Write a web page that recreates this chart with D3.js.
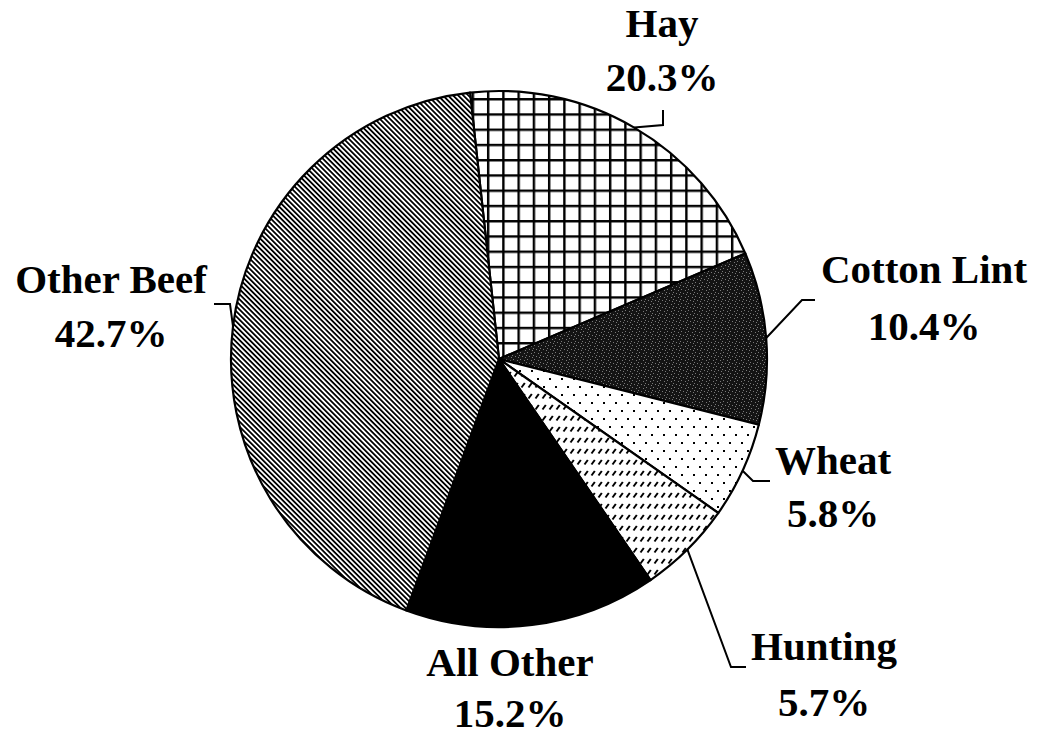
<!DOCTYPE html>
<html>
<head>
<meta charset="utf-8">
<script src="https://cdn.jsdelivr.net/npm/d3@7"></script>
<style>
  body { margin: 0; background: #fff; }
  #pie_chart { width: 1037px; height: 737px; }
  .lbl { font-family: "Liberation Serif", "Tinos", "Times New Roman", "Nimbus Roman", "DejaVu Serif", serif; font-weight: bold; font-size: 41px; fill: #000; }
</style>
</head>
<body>
<div id="pie_chart"></div>
<script>
// Data (percent of total)
var categories = ["Hay", "Cotton Lint", "Wheat", "Hunting", "All Other", "Other Beef"];
var values = [20.3, 10.4, 5.8, 5.7, 15.2, 42.7];
var valueLabels = ["20.3%", "10.4%", "5.8%", "5.7%", "15.2%", "42.7%"];

// Layout of the labels (text centre, two baselines, leader bend points)
var labelLayout = {
    "Hay":         {x: 662, y1: 37,  y2: 91,  leader: [[663, 125], [663, 110]]},
    "Cotton Lint": {x: 924, y1: 283, y2: 340, leader: [[802, 300], [815, 300]]},
    "Wheat":       {x: 833, y1: 474, y2: 527, leader: [[753, 481], [770, 481]]},
    "Hunting":     {x: 824, y1: 660, y2: 716, leader: [[731, 667], [746, 667]]},
    "All Other":   {x: 510, y1: 676, y2: 727, leader: null},
    "Other Beef":  {x: 111, y1: 293, y2: 347, leader: [[230, 304], [214, 304]]}
};

var width = 1037, height = 737;
var cx = 499, cy = 359, radius = 268;

var svg = d3.select("#pie_chart")
  .append("svg")
    .attr("width", width)
    .attr("height", height);

// Fill patterns (black & white print style)
var defs = svg.append("defs");

// Hay: square grid
var pGrid = defs.append("pattern")
    .attr("id", "p-grid")
    .attr("patternUnits", "userSpaceOnUse")
    .attr("x", 471.7 - cx).attr("y", 113.3 - cy)
    .attr("width", 15.25).attr("height", 15.25);
pGrid.append("rect").attr("width", 15.25).attr("height", 15.25).attr("fill", "#fff");
pGrid.append("rect").attr("x", 0).attr("y", 0).attr("width", 2.4).attr("height", 15.25).attr("fill", "#000");
pGrid.append("rect").attr("x", 0).attr("y", 0).attr("width", 15.25).attr("height", 2.4).attr("fill", "#000");

// Cotton Lint: dark speckled
var pDark = defs.append("pattern")
    .attr("id", "p-dark")
    .attr("patternUnits", "userSpaceOnUse")
    .attr("width", 7).attr("height", 7);
pDark.append("rect").attr("width", 7).attr("height", 7).attr("fill", "#141414");
[[0, 0], [4, 1], [2, 4], [5, 5], [6, 3]].forEach(function(p) {
    pDark.append("rect").attr("x", p[0]).attr("y", p[1]).attr("width", 1).attr("height", 1).attr("fill", "#7a7a7a");
});

// Wheat: sparse staggered dots
var pDots = defs.append("pattern")
    .attr("id", "p-dots")
    .attr("patternUnits", "userSpaceOnUse")
    .attr("width", 12).attr("height", 16);
pDots.append("rect").attr("width", 12).attr("height", 16).attr("fill", "#fff");
pDots.append("rect").attr("x", 2).attr("y", 3).attr("width", 2).attr("height", 2).attr("fill", "#000");
pDots.append("rect").attr("x", 8).attr("y", 11).attr("width", 2).attr("height", 2).attr("fill", "#000");

// Hunting: short upward diagonal dashes in rows
var pDash = defs.append("pattern")
    .attr("id", "p-dash")
    .attr("patternUnits", "userSpaceOnUse")
    .attr("width", 7).attr("height", 11);
pDash.append("rect").attr("width", 7).attr("height", 11).attr("fill", "#fff");
pDash.append("path").attr("d", "M1.5,6.5 L4.8,2").attr("stroke", "#000").attr("stroke-width", 2);

// Other Beef: dense downward diagonal lines
var pDiag = defs.append("pattern")
    .attr("id", "p-diag")
    .attr("patternUnits", "userSpaceOnUse")
    .attr("width", 8).attr("height", 3.6)
    .attr("patternTransform", "rotate(45)");
pDiag.append("rect").attr("width", 8).attr("height", 3.6).attr("fill", "#fff");
pDiag.append("rect").attr("x", 0).attr("y", 0).attr("width", 8).attr("height", 1.8).attr("fill", "#000");

var fills = d3.scaleOrdinal()
    .domain(categories)
    .range(["url(#p-grid)", "url(#p-dark)", "url(#p-dots)", "url(#p-dash)", "#000", "url(#p-diag)"]);

// Pie layout, clockwise from just left of twelve o'clock
var startAngle = -6.2 * Math.PI / 180;
var pie = d3.pie()
    .sort(null)
    .startAngle(startAngle)
    .endAngle(startAngle + 2 * Math.PI)
    .value(function(d) { return d.value; });

var data = categories.map(function(c, i) {
    return {name: c, value: values[i], label: valueLabels[i]};
});
var arcs = pie(data);

var arc = d3.arc().innerRadius(0).outerRadius(radius);
var rimArc = d3.arc().innerRadius(radius).outerRadius(radius);

var g = svg.append("g")
    .attr("transform", "translate(" + cx + "," + cy + ")");

g.selectAll("path.slice")
  .data(arcs)
  .enter()
  .append("path")
    .attr("class", "slice")
    .attr("d", arc)
    .attr("fill", function(d) { return fills(d.data.name); })
    .attr("stroke", "#000")
    .attr("stroke-width", 2.2)
    .attr("stroke-linejoin", "round");

// Leader lines: from the rim at the slice's middle angle to the label
var line = d3.line();
arcs.forEach(function(d) {
    var lay = labelLayout[d.data.name];
    if (!lay.leader) return;
    var c = rimArc.centroid(d);
    var pts = [[c[0] + cx, c[1] + cy]].concat(lay.leader);
    svg.append("path")
        .attr("d", line(pts))
        .attr("fill", "none")
        .attr("stroke", "#000")
        .attr("stroke-width", 2);
});

// Labels: name and percent
arcs.forEach(function(d) {
    var lay = labelLayout[d.data.name];
    svg.append("text")
        .attr("class", "lbl")
        .attr("x", lay.x)
        .attr("y", lay.y1)
        .attr("text-anchor", "middle")
        .text(d.data.name);
    svg.append("text")
        .attr("class", "lbl")
        .attr("x", lay.x)
        .attr("y", lay.y2)
        .attr("text-anchor", "middle")
        .text(d.data.label);
});
</script>
</body>
</html>
